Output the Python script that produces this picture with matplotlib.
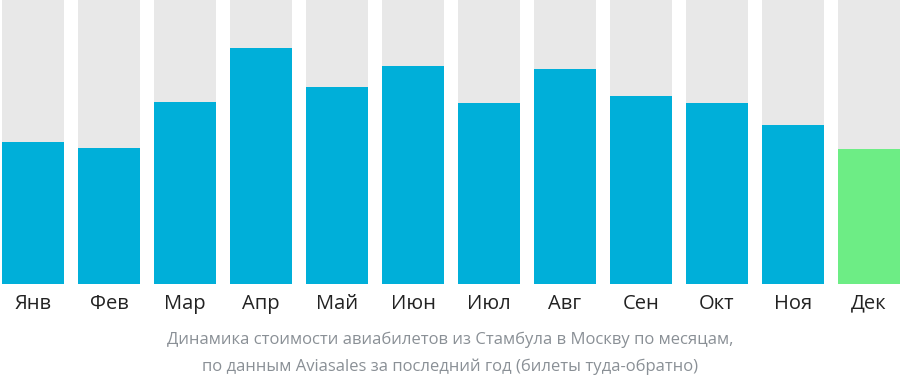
import matplotlib.pyplot as plt
import numpy as np

plt.rcParams['font.family'] = ['Open Sans', 'DejaVu Sans']

# Data (relative price levels, full scale = 284)
months = ['Янв', 'Фев', 'Мар', 'Апр', 'Май', 'Июн', 'Июл', 'Авг', 'Сен', 'Окт', 'Ноя', 'Дек']
values = [142, 136, 182, 236, 197, 218, 181, 215, 188, 181, 159, 135]
full_scale = 284
highlight = 'Дек'

caption = ("Динамика стоимости авиабилетов из Стамбула в Москву по месяцам,\n"
           "по данным Aviasales за последний год (билеты туда-обратно)")

fig = plt.figure(figsize=(9, 3.82), dpi=100)
ax = fig.add_axes([0, 98 / 382, 1, 284 / 382])

x = np.arange(len(months))
width = 0.816
colors = ['#6ded85' if m == highlight else '#00afd9' for m in months]

ax.bar(x, [full_scale] * len(months), width=width, color='#e8e8e8')
ax.bar(x, values, width=width, color=colors)

ax.set_xlim(-0.434, 11.408)
ax.set_ylim(0, full_scale)
ax.set_yticks([])
ax.set_xticks(x)
ax.set_xticklabels(months, fontsize=14.5, color='#222222')
ax.tick_params(axis='x', length=0, pad=7)
for s in ax.spines.values():
    s.set_visible(False)

fig.text(0.5, 0.076, caption, ha='center', va='center', fontsize=12,
         color='#8a9096', linespacing=1.82)

fig.savefig('out.png', dpi=100)
